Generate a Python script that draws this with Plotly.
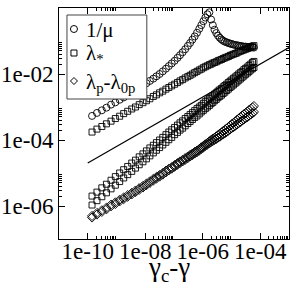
import plotly.graph_objects as go

# gamma_c - gamma (shared grid for every series)
gap = [1.41e-10, 2.09e-10, 3.09e-10, 4.47e-10, 6.46e-10, 9.12e-10, 1.29e-9, 1.78e-9, 2.45e-9, 3.39e-9,
       4.57e-9, 6.17e-9, 8.32e-9, 1.10e-8, 1.45e-8, 1.91e-8, 2.45e-8, 3.16e-8, 4.07e-8, 5.25e-8,
       6.61e-8, 8.32e-8, 1.05e-7, 1.32e-7, 1.62e-7, 2.00e-7, 2.45e-7, 3.02e-7, 3.63e-7, 4.37e-7,
       5.25e-7, 6.31e-7, 7.59e-7, 8.91e-7, 1.05e-6, 1.23e-6, 1.45e-6, 1.70e-6, 1.95e-6, 2.24e-6,
       2.57e-6, 2.95e-6, 3.39e-6, 3.89e-6, 4.47e-6, 5.13e-6, 5.89e-6, 6.76e-6, 7.76e-6, 8.91e-6,
       1.02e-5, 1.17e-5, 1.35e-5, 1.55e-5, 1.78e-5, 2.04e-5, 2.34e-5, 2.69e-5, 3.09e-5, 3.55e-5,
       4.07e-5, 4.68e-5, 5.37e-5, 6.03e-5]

inv_mu = [5.37e-4, 6.61e-4, 7.94e-4, 9.55e-4, 1.18e-3, 1.38e-3, 1.66e-3, 1.95e-3, 2.29e-3, 2.75e-3,
          3.24e-3, 3.80e-3, 4.47e-3, 5.25e-3, 6.17e-3, 7.24e-3, 8.51e-3, 1.00e-2, 1.20e-2, 1.45e-2,
          1.74e-2, 2.09e-2, 2.51e-2, 3.09e-2, 3.72e-2, 4.57e-2, 5.62e-2, 7.08e-2, 8.71e-2, 0.110,
          0.138, 0.178, 0.234, 0.302, 0.398, 0.513, 0.646, 0.741, 0.447, 0.302,
          0.219, 0.174, 0.145, 0.126, 0.112, 0.102, 0.0955, 0.0912, 0.0871, 0.0832,
          0.0813, 0.0776, 0.0759, 0.0741, 0.0724, 0.0708, 0.0692, 0.0676, 0.0676, 0.0661,
          0.0661, 0.0646, 0.0646, 0.0631]

lam_star = [1.74e-4, 2.14e-4, 2.57e-4, 3.09e-4, 3.72e-4, 4.47e-4, 5.25e-4, 6.31e-4, 7.41e-4, 8.71e-4,
            1.00e-3, 1.18e-3, 1.35e-3, 1.55e-3, 1.78e-3, 2.09e-3, 2.34e-3, 2.69e-3, 3.02e-3, 3.47e-3,
            3.89e-3, 4.37e-3, 4.90e-3, 5.50e-3, 6.17e-3, 6.76e-3, 7.59e-3, 8.32e-3, 9.12e-3, 1.00e-2,
            1.10e-2, 1.20e-2, 1.32e-2, 1.41e-2, 1.55e-2, 1.66e-2, 1.78e-2, 1.91e-2, 2.00e-2, 2.14e-2,
            2.24e-2, 2.34e-2, 2.51e-2, 2.63e-2, 2.75e-2, 2.95e-2, 3.09e-2, 3.24e-2, 3.39e-2, 3.63e-2,
            3.80e-2, 3.98e-2, 4.17e-2, 4.37e-2, 4.68e-2, 4.90e-2, 5.13e-2, 5.37e-2, 5.62e-2, 5.89e-2,
            6.17e-2, 6.61e-2, 6.92e-2, 7.24e-2]

lam_star_b1 = [2.00e-6, 2.63e-6, 3.55e-6, 4.57e-6, 6.03e-6, 7.76e-6, 1.00e-5, 1.26e-5, 1.58e-5, 2.00e-5,
               2.45e-5, 3.09e-5, 3.80e-5, 4.68e-5, 5.75e-5, 6.92e-5, 8.32e-5, 1.00e-4, 1.20e-4, 1.45e-4,
               1.74e-4, 2.04e-4, 2.40e-4, 2.82e-4, 3.31e-4, 3.80e-4, 4.47e-4, 5.13e-4, 5.89e-4, 6.76e-4,
               7.76e-4, 8.91e-4, 1.00e-3, 1.12e-3, 1.29e-3, 1.45e-3, 1.62e-3, 1.82e-3, 2.00e-3, 2.19e-3,
               2.45e-3, 2.69e-3, 3.02e-3, 3.31e-3, 3.63e-3, 4.07e-3, 4.47e-3, 4.90e-3, 5.50e-3, 6.03e-3,
               6.61e-3, 7.41e-3, 8.13e-3, 8.91e-3, 1.00e-2, 1.10e-2, 1.20e-2, 1.35e-2, 1.48e-2, 1.62e-2,
               1.82e-2, 2.00e-2, 2.24e-2, 2.40e-2]

lam_star_b2 = [1.07e-6, 1.45e-6, 1.91e-6, 2.51e-6, 3.31e-6, 4.27e-6, 5.50e-6, 7.08e-6, 8.91e-6, 1.12e-5,
               1.41e-5, 1.78e-5, 2.19e-5, 2.69e-5, 3.31e-5, 4.07e-5, 4.90e-5, 5.89e-5, 7.08e-5, 8.51e-5,
               1.02e-4, 1.20e-4, 1.45e-4, 1.70e-4, 2.00e-4, 2.29e-4, 2.69e-4, 3.16e-4, 3.63e-4, 4.17e-4,
               4.79e-4, 5.37e-4, 6.17e-4, 7.08e-4, 7.94e-4, 8.91e-4, 1.00e-3, 1.12e-3, 1.26e-3, 1.38e-3,
               1.55e-3, 1.70e-3, 1.91e-3, 2.09e-3, 2.29e-3, 2.57e-3, 2.82e-3, 3.16e-3, 3.47e-3, 3.89e-3,
               4.27e-3, 4.68e-3, 5.25e-3, 5.75e-3, 6.46e-3, 7.08e-3, 7.94e-3, 8.71e-3, 9.77e-3, 1.07e-2,
               1.18e-2, 1.32e-2, 1.45e-2, 1.58e-2]

lam_p_1 = [5.01e-7, 6.17e-7, 7.41e-7, 8.91e-7, 1.10e-6, 1.29e-6, 1.55e-6, 1.82e-6, 2.14e-6, 2.51e-6,
           2.95e-6, 3.47e-6, 4.07e-6, 4.79e-6, 5.62e-6, 6.61e-6, 7.59e-6, 8.71e-6, 1.00e-5, 1.18e-5,
           1.35e-5, 1.51e-5, 1.74e-5, 2.00e-5, 2.24e-5, 2.51e-5, 2.82e-5, 3.16e-5, 3.55e-5, 3.89e-5,
           4.37e-5, 4.79e-5, 5.37e-5, 6.03e-5, 6.61e-5, 7.41e-5, 8.13e-5, 9.12e-5, 1.00e-4, 1.10e-4,
           1.18e-4, 1.29e-4, 1.41e-4, 1.55e-4, 1.70e-4, 1.86e-4, 2.04e-4, 2.24e-4, 2.45e-4, 2.75e-4,
           3.02e-4, 3.31e-4, 3.63e-4, 4.07e-4, 4.47e-4, 4.90e-4, 5.50e-4, 6.03e-4, 6.61e-4, 7.24e-4,
           8.13e-4, 8.91e-4, 9.77e-4, 1.07e-3]

lam_p_2 = [4.47e-7, 5.50e-7, 6.61e-7, 7.94e-7, 9.77e-7, 1.15e-6, 1.38e-6, 1.62e-6, 1.91e-6, 2.24e-6,
           2.63e-6, 3.09e-6, 3.63e-6, 4.27e-6, 5.01e-6, 5.89e-6, 6.76e-6, 7.76e-6, 8.91e-6, 1.05e-5,
           1.20e-5, 1.35e-5, 1.55e-5, 1.78e-5, 2.00e-5, 2.24e-5, 2.51e-5, 2.82e-5, 3.16e-5, 3.47e-5,
           3.89e-5, 4.27e-5, 4.79e-5, 5.37e-5, 5.89e-5, 6.61e-5, 7.24e-5, 7.94e-5, 8.71e-5, 9.33e-5,
           1.00e-4, 1.07e-4, 1.18e-4, 1.26e-4, 1.38e-4, 1.48e-4, 1.62e-4, 1.74e-4, 1.91e-4, 2.09e-4,
           2.29e-4, 2.45e-4, 2.69e-4, 2.95e-4, 3.24e-4, 3.47e-4, 3.89e-4, 4.17e-4, 4.57e-4, 4.90e-4,
           5.50e-4, 5.89e-4, 6.46e-4, 7.08e-4]

# reference power law ~ x^(1/2)
ref_x = [1e-10, 1e-3]
ref_y = [2.0e-5, 6.3e-2]

x_tickvals = [1e-10, 1e-8, 1e-6, 1e-4]
x_ticktext = ["1e-10", "1e-08", "1e-06", "1e-04"]
y_tickvals = [1e0, 1e-2, 1e-4, 1e-6]
y_ticktext = ["1e+00", "1e-02", "1e-04", "1e-06"]
x_minor = [m * d for d in x_tickvals for m in range(2, 10)]
y_minor = [m * d for d in [1e-2, 1e-4, 1e-6] for m in range(2, 10)]

legend_labels = ["1/μ", "λ<sub>*</sub>", "λ<sub>p</sub>-λ<sub>0p</sub>"]

FONT = "Liberation Serif"

def mk(sym, size):
    return dict(symbol=sym, size=size, color="black", line=dict(color="black", width=0.9))

fig = go.Figure()
fig.add_trace(go.Scatter(x=ref_x, y=ref_y, mode="lines", line=dict(color="black", width=1.2)))
fig.add_trace(go.Scatter(x=gap, y=lam_star_b1, mode="markers", marker=mk("square-open", 6)))
fig.add_trace(go.Scatter(x=gap, y=lam_star_b2, mode="markers", marker=mk("square-open", 6)))
fig.add_trace(go.Scatter(x=gap, y=lam_p_2, mode="markers", marker=mk("diamond-open", 7)))
fig.add_trace(go.Scatter(x=gap, y=inv_mu, mode="markers", marker=mk("circle-open", 7)))
fig.add_trace(go.Scatter(x=gap, y=lam_star, mode="markers", marker=mk("square-open", 6)))
fig.add_trace(go.Scatter(x=gap, y=lam_p_1, mode="markers", marker=mk("diamond-open", 7)))

axis_common = dict(type="log", showgrid=False, zeroline=False, showline=True, linecolor="black",
                   linewidth=1, mirror="ticks", ticks="inside", ticklen=6, tickcolor="black",
                   automargin=False,
                   tickfont=dict(family=FONT, size=23, color="black"))

fig.update_xaxes(**axis_common, range=[-11, -3], tickvals=x_tickvals, ticktext=x_ticktext,
                 ticklabelstandoff=-9,
                 minor=dict(tickvals=x_minor, ticks="inside", ticklen=3, tickcolor="black"))
fig.update_yaxes(**axis_common, range=[-7, 0], tickvals=y_tickvals, ticktext=y_ticktext,
                 minor=dict(tickvals=y_minor, ticks="inside", ticklen=3, tickcolor="black"))

# hand-made legend (box, keys, labels) and x-axis title
PW, PH = 230.5, 231.0
def px(xp):
    return (xp - 59) / PW
def py(yp):
    return 1 - (yp - 8) / PH

shapes = [dict(type="rect", xref="paper", yref="paper", x0=px(67), x1=px(147), y0=py(99), y1=py(15),
               line=dict(color="#444", width=1), fillcolor="white", layer="above")]
key_y = [29, 53, 81]
shapes.append(dict(type="circle", xref="paper", yref="paper", xsizemode="pixel", ysizemode="pixel",
                   xanchor=px(74), yanchor=py(key_y[0]), x0=-3.5, x1=3.5, y0=-3.5, y1=3.5,
                   line=dict(color="black", width=1), layer="above"))
shapes.append(dict(type="rect", xref="paper", yref="paper", xsizemode="pixel", ysizemode="pixel",
                   xanchor=px(74), yanchor=py(key_y[1]), x0=-3, x1=3, y0=-3, y1=3,
                   line=dict(color="black", width=1), layer="above"))
shapes.append(dict(type="path", xref="paper", yref="paper", xsizemode="pixel", ysizemode="pixel",
                   xanchor=px(74), yanchor=py(key_y[2]), path="M -3.5 0 L 0 3.5 L 3.5 0 L 0 -3.5 Z",
                   line=dict(color="black", width=1), layer="above"))

text_y = [30, 54, 83]
annotations = [dict(text=t, xref="paper", yref="paper", x=px(84), y=py(yy), xanchor="left",
                    yanchor="middle", showarrow=False,
                    font=dict(family=FONT, size=21, color="black"))
               for t, yy in zip(legend_labels, text_y)]
annotations.append(dict(text="γ<sub>c</sub>-γ", xref="paper", yref="paper", x=px(169), y=py(269),
                        xanchor="center", yanchor="middle", showarrow=False,
                        font=dict(family=FONT, size=27, color="black")))

fig.update_layout(
    width=291, height=285,
    margin=dict(l=59, r=2, t=8, b=46),
    paper_bgcolor="white", plot_bgcolor="white",
    font=dict(family=FONT, color="black"),
    showlegend=False,
    shapes=shapes,
    annotations=annotations,
)

fig.write_html("out.html", config={"displayModeBar": False},
               post_script="document.body.style.margin='0';document.body.style.padding='0';")
